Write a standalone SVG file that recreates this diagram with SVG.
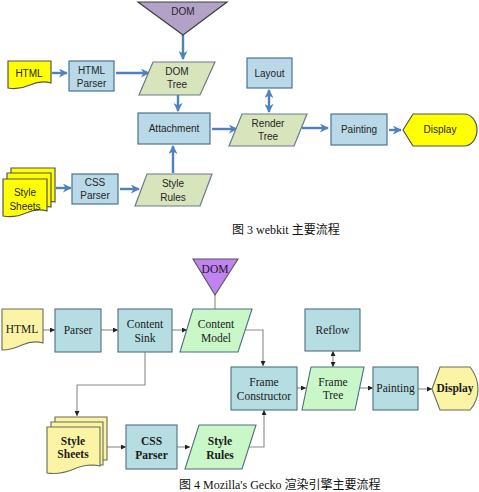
<svg xmlns="http://www.w3.org/2000/svg" width="479" height="492" viewBox="0 0 479 492">
  <defs>
    <marker id="arrowBlue" viewBox="0 0 10 10" refX="9" refY="5" markerWidth="9" markerHeight="9" markerUnits="userSpaceOnUse" orient="auto-start-reverse">
      <path d="M0,0 L10,5 L0,10 L3,5 Z" fill="#4f81bd"/>
    </marker>
    <marker id="arrowDark" viewBox="0 0 10 10" refX="10" refY="5" markerWidth="5" markerHeight="5" markerUnits="userSpaceOnUse" orient="auto-start-reverse">
      <path d="M0,0 L10,5 L0,10 Z" fill="#222"/>
    </marker>
    <style>
      .wk-box { fill: #b9d8e8; stroke: #4d7391; stroke-width: 1.2; }
      .wk-para { fill: #d8e4bc; stroke: #6b7b8a; stroke-width: 1.2; }
      .wk-yellow { fill: #ffff00; stroke: #555; stroke-width: 1.2; }
      .wk-dom { fill: #b3a2c7; stroke: #404040; stroke-width: 1.2; }
      .wk-text { font-family: "Liberation Sans", Arial, sans-serif; font-size: 10px; fill: #262626; text-anchor: middle; }
      .wk-link { fill: none; stroke: #4f81bd; stroke-width: 2.4; }
      .gk-box { fill: #b5dde2; stroke: #4f6f7c; stroke-width: 1.1; }
      .gk-para { fill: #c9f7c8; stroke: #4f6f7c; stroke-width: 1.1; }
      .gk-yellow { fill: #fbf4a4; stroke: #6b6b5a; stroke-width: 1.1; }
      .gk-dom { fill: #c183f2; stroke: #555; stroke-width: 1.1; }
      .gk-text { font-family: "Liberation Serif", "Times New Roman", serif; font-size: 11.5px; fill: #1a1a1a; text-anchor: middle; }
      .gk-bold { font-weight: bold; }
      .gk-link { fill: none; stroke: #8a8a8a; stroke-width: 1.1; }
      .caption { font-family: "Liberation Serif", "Noto Sans CJK SC", serif; font-size: 12px; fill: #111; }
    </style>
  </defs>

  <!-- WebKit main flow -->
  <g id="webkit-connectors">
    <path class="wk-link" d="M183,35 V59" marker-end="url(#arrowBlue)"/>
    <path class="wk-link" d="M52,73 H67" marker-end="url(#arrowBlue)"/>
    <path class="wk-link" d="M116,73 H149" marker-end="url(#arrowBlue)"/>
    <path class="wk-link" d="M178,95 V111" marker-end="url(#arrowBlue)"/>
    <path class="wk-link" d="M173,173 V146" marker-end="url(#arrowBlue)"/>
    <path class="wk-link" d="M212,129 H237" marker-end="url(#arrowBlue)"/>
    <path class="wk-link" d="M269,90 V112" marker-start="url(#arrowBlue)" marker-end="url(#arrowBlue)"/>
    <path class="wk-link" d="M302,128 H328" marker-end="url(#arrowBlue)"/>
    <path class="wk-link" d="M389,130 H401" marker-end="url(#arrowBlue)"/>
    <path class="wk-link" d="M56,188 H71" marker-end="url(#arrowBlue)"/>
    <path class="wk-link" d="M120,189 H139" marker-end="url(#arrowBlue)"/>
  </g>

  <g id="wk-dom">
    <path class="wk-dom" d="M138,2 H227 L183,35 Z"/>
    <text class="wk-text" x="183" y="15">DOM</text>
  </g>
  <g id="wk-html">
    <path class="wk-yellow" d="M8,61 H51 V83 Q41,80 30,85 T8,88 Z"/>
    <text class="wk-text" x="29" y="77">HTML</text>
  </g>
  <g id="wk-html-parser">
    <rect class="wk-box" x="69" y="61" width="45" height="30"/>
    <text class="wk-text" x="91.5" y="74">HTML</text>
    <text class="wk-text" x="91.5" y="87">Parser</text>
  </g>
  <g id="wk-dom-tree">
    <path class="wk-para" d="M153,62 H215 L200,95 H139 Z"/>
    <text class="wk-text" x="177" y="75">DOM</text>
    <text class="wk-text" x="177" y="88">Tree</text>
  </g>
  <g id="wk-attachment">
    <rect class="wk-box" x="138" y="113" width="72" height="31"/>
    <text class="wk-text" x="174" y="132">Attachment</text>
  </g>
  <g id="wk-layout">
    <rect class="wk-box" x="247" y="58" width="45" height="30"/>
    <text class="wk-text" x="269.5" y="77">Layout</text>
  </g>
  <g id="wk-render-tree">
    <path class="wk-para" d="M242,114 H307 L294,146 H229 Z"/>
    <text class="wk-text" x="268" y="127">Render</text>
    <text class="wk-text" x="268" y="140">Tree</text>
  </g>
  <g id="wk-painting">
    <rect class="wk-box" x="331" y="114" width="56" height="31"/>
    <text class="wk-text" x="359" y="133">Painting</text>
  </g>
  <g id="wk-display">
    <path class="wk-yellow" d="M403,130 L413,114 H464 A13,16 0 0 1 464,146 H413 Z"/>
    <text class="wk-text" x="440" y="133">Display</text>
  </g>
  <g id="wk-style-sheets">
    <path class="wk-yellow" d="M11,168 H55 V202 Q47,200 40,204 L11,204 Z"/>
    <path class="wk-yellow" d="M7,173 H51 V207 Q43,205 36,209 L7,209 Z"/>
    <path class="wk-yellow" d="M3,179 H47 V211 Q37,208 26,213 T3,216 Z"/>
    <text class="wk-text" x="25" y="196">Style</text>
    <text class="wk-text" x="25" y="210">Sheets</text>
  </g>
  <g id="wk-css-parser">
    <rect class="wk-box" x="72" y="174" width="46" height="30"/>
    <text class="wk-text" x="95" y="186">CSS</text>
    <text class="wk-text" x="95" y="199">Parser</text>
  </g>
  <g id="wk-style-rules">
    <path class="wk-para" d="M147,174 H212 L200,206 H135 Z"/>
    <text class="wk-text" x="173" y="187">Style</text>
    <text class="wk-text" x="173" y="201">Rules</text>
  </g>
  <text class="caption" x="232" y="234">图 3  webkit 主要流程</text>

  <!-- Gecko main flow -->
  <g id="gecko-connectors">
    <path class="gk-link" d="M215,295 V309"/>
    <path class="gk-link" d="M43,330 H55" marker-end="url(#arrowDark)"/>
    <path class="gk-link" d="M101,330 H118" marker-end="url(#arrowDark)"/>
    <path class="gk-link" d="M172,330 H187" marker-end="url(#arrowDark)"/>
    <path class="gk-link" d="M245,330 H263 V366" marker-end="url(#arrowDark)"/>
    <path class="gk-link" d="M145,352 V385 H77 V416" marker-end="url(#arrowDark)"/>
    <path class="gk-link" d="M333,351 V367" marker-start="url(#arrowDark)" marker-end="url(#arrowDark)"/>
    <path class="gk-link" d="M297,388 H306" marker-end="url(#arrowDark)"/>
    <path class="gk-link" d="M360,388 H373" marker-end="url(#arrowDark)"/>
    <path class="gk-link" d="M418,389 H432" marker-end="url(#arrowDark)"/>
    <path class="gk-link" d="M249,447 H264 V410" marker-end="url(#arrowDark)"/>
    <path class="gk-link" d="M105,447 H126" marker-end="url(#arrowDark)"/>
    <path class="gk-link" d="M177,447 H190" marker-end="url(#arrowDark)"/>
  </g>

  <g id="gk-dom">
    <path class="gk-dom" d="M193,259 H238 L215,295 Z"/>
    <text class="gk-text" x="215" y="273">DOM</text>
  </g>
  <g id="gk-html">
    <path class="gk-yellow" d="M2,309 H43 V343 Q33,340 22,345 T2,350 Z"/>
    <text class="gk-text" x="22" y="333">HTML</text>
  </g>
  <g id="gk-parser">
    <rect class="gk-box" x="55" y="309" width="46" height="43"/>
    <text class="gk-text" x="78" y="334">Parser</text>
  </g>
  <g id="gk-content-sink">
    <rect class="gk-box" x="118" y="309" width="54" height="43"/>
    <text class="gk-text" x="145" y="328">Content</text>
    <text class="gk-text" x="145" y="342">Sink</text>
  </g>
  <g id="gk-content-model">
    <path class="gk-para" d="M193,309 H252 L238,352 H180 Z"/>
    <text class="gk-text" x="216" y="328">Content</text>
    <text class="gk-text" x="216" y="342">Model</text>
  </g>
  <g id="gk-reflow">
    <rect class="gk-box" x="305" y="309" width="55" height="42"/>
    <text class="gk-text" x="332.5" y="334">Reflow</text>
  </g>
  <g id="gk-frame-constructor">
    <rect class="gk-box" x="231" y="367" width="66" height="43"/>
    <text class="gk-text" x="264" y="386">Frame</text>
    <text class="gk-text" x="264" y="400">Constructor</text>
  </g>
  <g id="gk-frame-tree">
    <path class="gk-para" d="M311,367 H364 L355,410 H302 Z"/>
    <text class="gk-text" x="333" y="386">Frame</text>
    <text class="gk-text" x="333" y="399">Tree</text>
  </g>
  <g id="gk-painting">
    <rect class="gk-box" x="373" y="367" width="45" height="43"/>
    <text class="gk-text" x="395.5" y="392">Painting</text>
  </g>
  <g id="gk-display">
    <path class="gk-yellow" d="M432,389 L440,367 H470 Q478,377 478,389 Q478,401 470,410 H440 Z"/>
    <text class="gk-text gk-bold" x="455" y="392" font-size="10.5">Display</text>
  </g>
  <g id="gk-style-sheets">
    <path class="gk-yellow" d="M55,417 H107 V460 L55,460 Z"/>
    <path class="gk-yellow" d="M51,422 H103 V465 L51,465 Z"/>
    <path class="gk-yellow" d="M47,427 H100 V466 Q88,463 74,469 T47,473 Z"/>
    <text class="gk-text gk-bold" x="73" y="445">Style</text>
    <text class="gk-text gk-bold" x="73" y="458">Sheets</text>
  </g>
  <g id="gk-css-parser">
    <rect class="gk-box" x="126" y="425" width="51" height="44"/>
    <text class="gk-text gk-bold" x="151.5" y="445">CSS</text>
    <text class="gk-text gk-bold" x="151.5" y="459">Parser</text>
  </g>
  <g id="gk-style-rules">
    <path class="gk-para" d="M199,425 H256 L242,469 H185 Z"/>
    <text class="gk-text gk-bold" x="220" y="445">Style</text>
    <text class="gk-text gk-bold" x="220" y="459">Rules</text>
  </g>
  <text class="caption" x="179" y="489" font-size="13">图 4  Mozilla's Gecko 渲染引擎主要流程</text>
</svg>
